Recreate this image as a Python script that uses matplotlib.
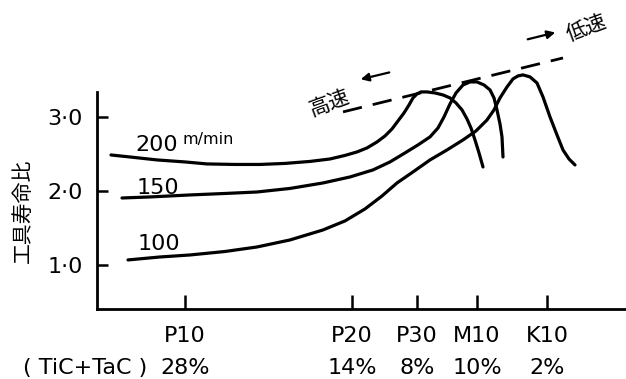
import matplotlib
matplotlib.use("Agg")
import matplotlib.pyplot as plt

plt.rcParams['font.family'] = ['DejaVu Sans', 'Noto Sans CJK JP']

# Carbide grades (x positions on a relative 0-529 scale) and TiC+TaC content
grades = ["P10", "P20", "P30", "M10", "K10"]
grade_pos = [88, 255, 320, 380, 450]
tic_tac = ["28%", "14%", "8%", "10%", "2%"]

yticks = [1.0, 2.0, 3.0]
ytick_labels = ["1·0", "2·0", "3·0"]

# Tool life ratio curves for cutting speeds (m/min)
v200_x = [14, 33, 60, 88, 110, 138, 163, 188, 213, 233, 248, 260, 270, 280, 288, 295, 301,
          307, 312, 316, 320, 324, 330, 338, 346, 353, 359, 365, 370, 374, 378, 382, 386]
v200_y = [2.486, 2.459, 2.419, 2.392, 2.365, 2.358, 2.358, 2.372, 2.399, 2.432, 2.480, 2.527,
          2.581, 2.662, 2.743, 2.838, 2.946, 3.054, 3.162, 3.257, 3.311, 3.338, 3.338, 3.324,
          3.297, 3.257, 3.189, 3.095, 2.973, 2.851, 2.689, 2.514, 2.324]

v150_x = [25, 53, 93, 128, 160, 193, 226, 253, 276, 293, 308, 321, 333, 341, 347, 353, 359,
          366, 373, 380, 387, 393, 397, 400, 403, 405, 406]
v150_y = [1.905, 1.919, 1.946, 1.966, 1.986, 2.034, 2.108, 2.189, 2.284, 2.392, 2.514, 2.622,
          2.730, 2.851, 3.000, 3.176, 3.324, 3.432, 3.473, 3.473, 3.432, 3.365, 3.257, 3.095,
          2.905, 2.730, 2.459]

v100_x = [31, 63, 93, 128, 160, 193, 226, 248, 268, 285, 300, 316, 333, 350, 366, 379, 390,
          397, 403, 410, 416, 421, 426, 433, 440, 446, 453, 460, 466, 472, 478]
v100_y = [1.068, 1.108, 1.135, 1.182, 1.243, 1.338, 1.473, 1.595, 1.757, 1.932, 2.108, 2.257,
          2.419, 2.554, 2.689, 2.811, 2.959, 3.095, 3.257, 3.405, 3.514, 3.554, 3.568, 3.541,
          3.459, 3.270, 3.000, 2.757, 2.554, 2.432, 2.351]

# Optimum (peak) trend line
peak_x = [246, 466]
peak_y = [3.068, 3.797]

fig = plt.figure(figsize=(6.26, 3.79), dpi=100)
ax = fig.add_axes([97/626, 70/379, 529/626, 309/379])
ax.set_xlim(0, 529)
ax.set_ylim(0.405, 4.58)

lw = 2.3
for xs, ys in [(v200_x, v200_y), (v150_x, v150_y), (v100_x, v100_y)]:
    ax.plot(xs, ys, color='black', lw=lw, solid_capstyle='round',
            solid_joinstyle='round', clip_on=False)

ax.plot(peak_x, peak_y, color='black', lw=2.0, dashes=(7, 4), clip_on=False)

# arrows
ax.annotate("", xy=(261, 3.50), xytext=(295, 3.61),
            arrowprops=dict(arrowstyle='-|>', color='black', lw=1.6, mutation_scale=12))
ax.annotate("", xy=(461, 4.15), xytext=(428, 4.04),
            arrowprops=dict(arrowstyle='-|>', color='black', lw=1.6, mutation_scale=12))
ax.text(233, 3.19, "高速", rotation=20, ha='center', va='center', fontsize=15,
        family=['Noto Sans CJK JP'])
ax.text(490, 4.20, "低速", rotation=20, ha='center', va='center', fontsize=15,
        family=['Noto Sans CJK JP'])

# curve labels
ax.text(60, 2.62, "200", ha='center', va='center', fontsize=16)
ax.text(86, 2.69, "m/min", ha='left', va='center', fontsize=11.5)
ax.text(61, 2.04, "150", ha='center', va='center', fontsize=16)
ax.text(62, 1.28, "100", ha='center', va='center', fontsize=16)

# axes styling
for s in ['top', 'right']:
    ax.spines[s].set_visible(False)
ax.spines['left'].set_linewidth(2.0)
ax.spines['bottom'].set_linewidth(2.0)
ax.spines['left'].set_bounds(0.405, 3.34)

ax.set_yticks(yticks)
ax.set_yticklabels(ytick_labels, fontsize=16)
ax.set_xticks(grade_pos)
ax.set_xticklabels(grades, fontsize=16)
ax.tick_params(axis='y', direction='in', length=8, width=1.8, pad=10)
ax.tick_params(axis='x', direction='in', length=10, width=1.8, pad=12)

for xp, lab in zip(grade_pos, tic_tac):
    ax.text(xp, -0.39, lab, ha='center', va='center', fontsize=16, clip_on=False)
ax.text(50, -0.39, "( TiC+TaC )", ha='right', va='center', fontsize=16, clip_on=False)

ax.set_ylabel("工具寿命比", family=['Noto Sans CJK JP'], fontsize=15)
ax.yaxis.set_label_coords(-63/529, (1 + (265 - 211)/74 - 0.405) / (4.58 - 0.405))

fig.savefig("out.png", dpi=100)
